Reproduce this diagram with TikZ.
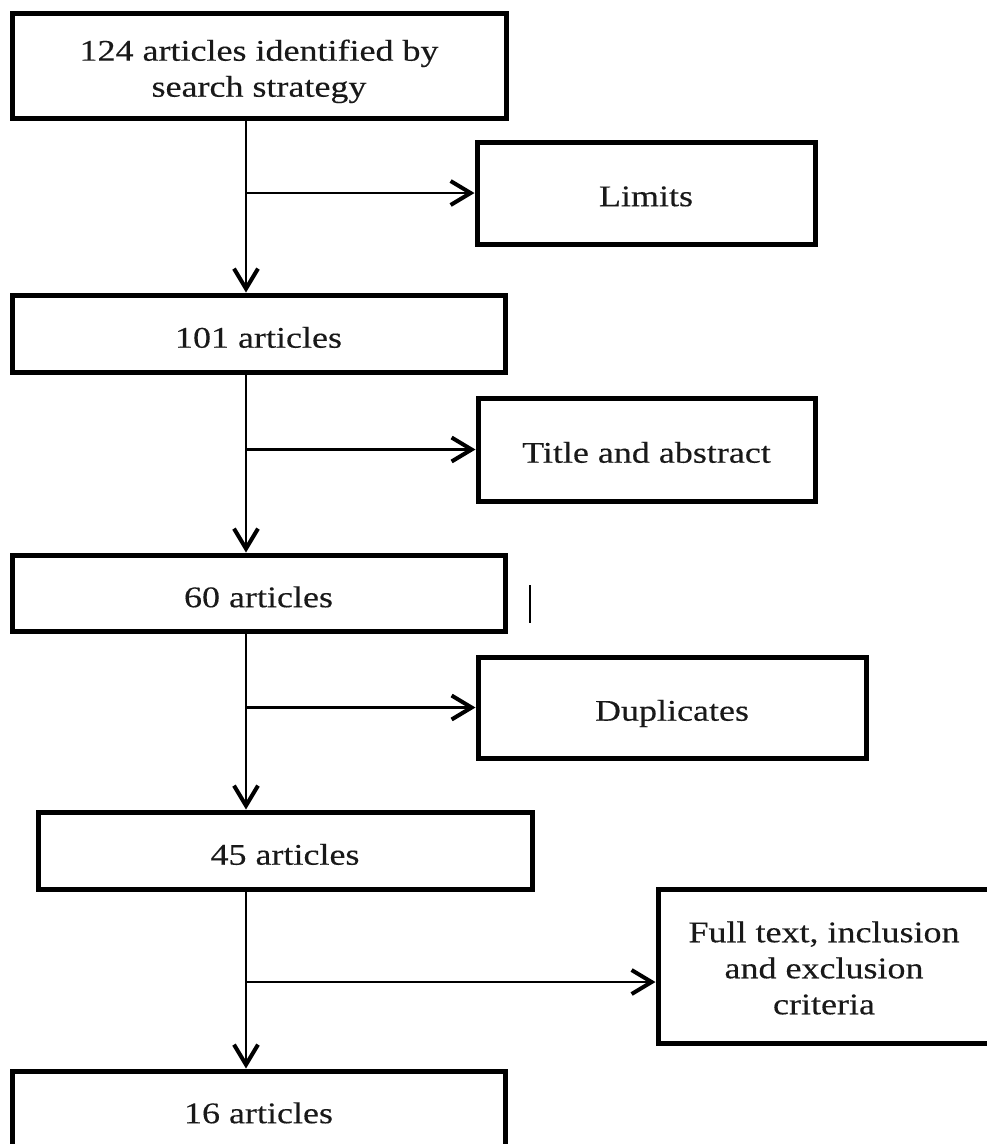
\documentclass[tikz,border=0pt]{standalone}
\usepackage{fontspec}
\setmainfont[FakeStretch=1.2,FakeBold=0.3]{Liberation Serif}
\usetikzlibrary{arrows.meta}
\newcommand{\lowtxt}[2][-7pt]{\raisebox{#1}[\height][\depth]{\begin{tabular}{@{}c@{}}#2\end{tabular}}}
\begin{document}
\begin{tikzpicture}[x=1pt,y=-1pt,
  box/.style={draw=black, line width=5pt, rectangle, inner sep=0pt, align=center,
    font=\fontsize{30}{36}\selectfont, text=black!90},
  flow/.style={line width=2.4pt, -{Straight Barb[length=20pt,width=24pt,line width=4pt]}}]
\useasboundingbox (0,0) rectangle (987,1144);
\clip (0,0) rectangle (987,1144);
\coordinate (sp) at (246,0);
% main column
\node[box, minimum width=494pt, minimum height=105pt] (b1) at (259,65.5) {\lowtxt[-6pt]{124 articles identified by\\search strategy}};
\node[box, minimum width=493pt, minimum height=77pt] (b2) at (258.5,333.5) {\lowtxt{101 articles}};
\node[box, minimum width=493pt, minimum height=76pt] (b3) at (258.5,593) {\lowtxt{60 articles}};
\node[box, minimum width=494pt, minimum height=77pt] (b4) at (285,850.5) {\lowtxt{45 articles}};
\node[box, minimum width=493pt, minimum height=76pt] (b5) at (258.5,1109) {\lowtxt{16 articles}};
% side boxes
\node[box, minimum width=338pt, minimum height=102pt] (lim) at (646,193) {\lowtxt[-6pt]{Limits}};
\node[box, minimum width=337pt, minimum height=103pt] (tit) at (646.5,449.5) {\lowtxt[-6pt]{Title and abstract}};
\node[box, minimum width=388pt, minimum height=101pt] (dup) at (672,707.5) {\lowtxt[-6pt]{Duplicates}};
\node[box, minimum width=338pt, minimum height=154pt] (ful) at (827,966) {};
\node[align=center, inner sep=0pt, font=\fontsize{30}{36}\selectfont, text=black!90] (fult) at (824,968) {Full text, inclusion\\and exclusion\\criteria};
\coordinate (fin) at (ful.west |- 0,982);
% stray bar
\draw[line width=2.5pt] (530,585) -- (530,623);
% vertical flow
\draw[flow] (b1.south -| sp) -- (b2.north -| sp);
\draw[flow] (b2.south -| sp) -- (b3.north -| sp);
\draw[flow] (b3.south -| sp) -- (b4.north -| sp);
\draw[flow] (b4.south -| sp) -- (b5.north -| sp);
% side arrows
\draw[flow] (lim.west -| sp) -- (lim.west);
\draw[flow] (tit.west -| sp) -- (tit.west);
\draw[flow] (dup.west -| sp) -- (dup.west);
\draw[flow] (fin -| sp) -- (fin);
\end{tikzpicture}
\end{document}
